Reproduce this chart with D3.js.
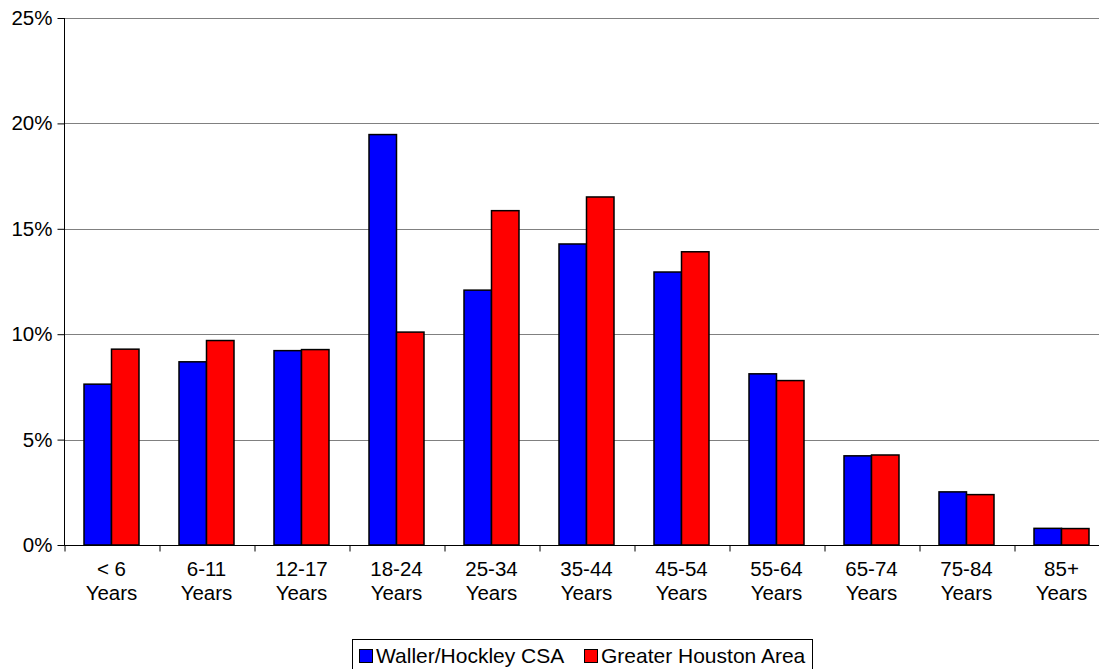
<!DOCTYPE html>
<html>
<head>
<script src="https://d3js.org/d3.v7.min.js"></script>
<style>
  body { margin: 0; background: #ffffff; font-family: "Liberation Sans", Arial, sans-serif; }
  svg text { font-family: "Liberation Sans", Arial, sans-serif; fill: #000; }
</style>
</head>
<body>
<div class="chart"></div>
<script>
// age groups and shares (%)
var categories = ["< 6", "6-11", "12-17", "18-24", "25-34", "35-44", "45-54", "55-64", "65-74", "75-84", "85+"];
var waller  = [7.63, 8.69, 9.22, 19.47, 12.09, 14.28, 12.95, 8.12, 4.23, 2.52, 0.79];
var houston = [9.29, 9.70, 9.27, 10.10, 15.86, 16.51, 13.91, 7.80, 4.27, 2.39, 0.78];
var seriesNames = ["Waller/Hockley CSA", "Greater Houston Area"];
var seriesColors = ["#0000ff", "#ff0000"];
var yTicks = [0, 5, 10, 15, 20, 25];

var width = 1099, height = 669;
var plotLeft = 64, plotTop = 18, plotBottom = 545, step = 95;
var plotRight = plotLeft + step * categories.length;
var fontSize = "20.5px";

var svg = d3.select(".chart").append("svg")
    .attr("width", width)
    .attr("height", height);

var x0 = d3.scaleBand()
    .domain(categories)
    .range([plotLeft, plotRight])
    .paddingInner(40 / 95)
    .paddingOuter(20 / 95);

var x1 = d3.scaleBand()
    .domain([0, 1])
    .range([0, x0.bandwidth()]);

var y = d3.scaleLinear()
    .domain([0, 25])
    .range([plotBottom, plotTop]);

// gridlines
svg.append("g")
    .selectAll("line")
    .data(yTicks.slice(1))
    .enter().append("line")
    .attr("x1", plotLeft).attr("x2", width)
    .attr("y1", function(d) { return Math.round(y(d)) + 0.5; })
    .attr("y2", function(d) { return Math.round(y(d)) + 0.5; })
    .attr("stroke", "#808080")
    .attr("stroke-width", 1);

// bars
var rows = categories.map(function(c, i) { return { cat: c, vals: [waller[i], houston[i]] }; });
var group = svg.append("g").selectAll("g")
    .data(rows)
    .enter().append("g")
    .attr("transform", function(d) { return "translate(" + x0(d.cat) + ",0)"; });

group.selectAll("rect")
    .data(function(d) { return d.vals.map(function(v, k) { return { k: k, v: v }; }); })
    .enter().append("rect")
    .attr("x", function(d) { return x1(d.k); })
    .attr("width", x1.bandwidth())
    .attr("y", function(d) { return y(d.v); })
    .attr("height", function(d) { return y(0) - y(d.v); })
    .attr("fill", function(d) { return seriesColors[d.k]; })
    .attr("stroke", "#000")
    .attr("stroke-width", 1.5);

// y axis
var yAxis = svg.append("g")
    .attr("transform", "translate(" + (plotLeft + 0.5) + ",0)")
    .call(d3.axisLeft(y).tickValues(yTicks).tickSize(7).tickPadding(5)
        .tickFormat(function(d) { return d + "%"; }));
yAxis.select(".domain").attr("d", "M0," + plotTop + "V" + plotBottom);
yAxis.selectAll("text").style("font-size", fontSize).style("font-family", "Liberation Sans, Arial, sans-serif");

// x axis with boundary ticks
var xb = d3.scaleLinear().domain([0, categories.length]).range([plotLeft, plotRight]);
var xAxis = svg.append("g")
    .attr("transform", "translate(0," + (plotBottom + 0.5) + ")")
    .call(d3.axisBottom(xb).tickValues(d3.range(categories.length + 1)).tickSize(6).tickFormat(""));
xAxis.select(".domain").attr("d", "M" + plotLeft + ",0H" + width);
xAxis.selectAll(".tick line").attr("transform", "translate(0.5,0)");

var lab = svg.append("g").selectAll("text")
    .data(categories)
    .enter().append("text")
    .attr("text-anchor", "middle")
    .style("font-size", fontSize);
lab.append("tspan").attr("y", 575.5).attr("x", function(d) { return x0(d) + x0.bandwidth() / 2; }).text(function(d) { return d; });
lab.append("tspan").attr("y", 599.5).attr("x", function(d) { return x0(d) + x0.bandwidth() / 2; }).text("Years");

// legend
var legend = svg.append("g");
legend.append("rect")
    .attr("x", 352.5).attr("y", 639.5)
    .attr("width", 460).attr("height", 32)
    .attr("fill", "#fff").attr("stroke", "#000").attr("stroke-width", 1);
var legX = [359, 584];
seriesNames.forEach(function(name, i) {
    legend.append("rect")
        .attr("x", legX[i] + 0.5).attr("y", 649.5)
        .attr("width", 13).attr("height", 13)
        .attr("fill", seriesColors[i]).attr("stroke", "#000").attr("stroke-width", 1);
    legend.append("text")
        .attr("x", legX[i] + 17).attr("y", 663)
        .style("font-size", "21px")
        .text(name);
});
</script>
</body>
</html>
